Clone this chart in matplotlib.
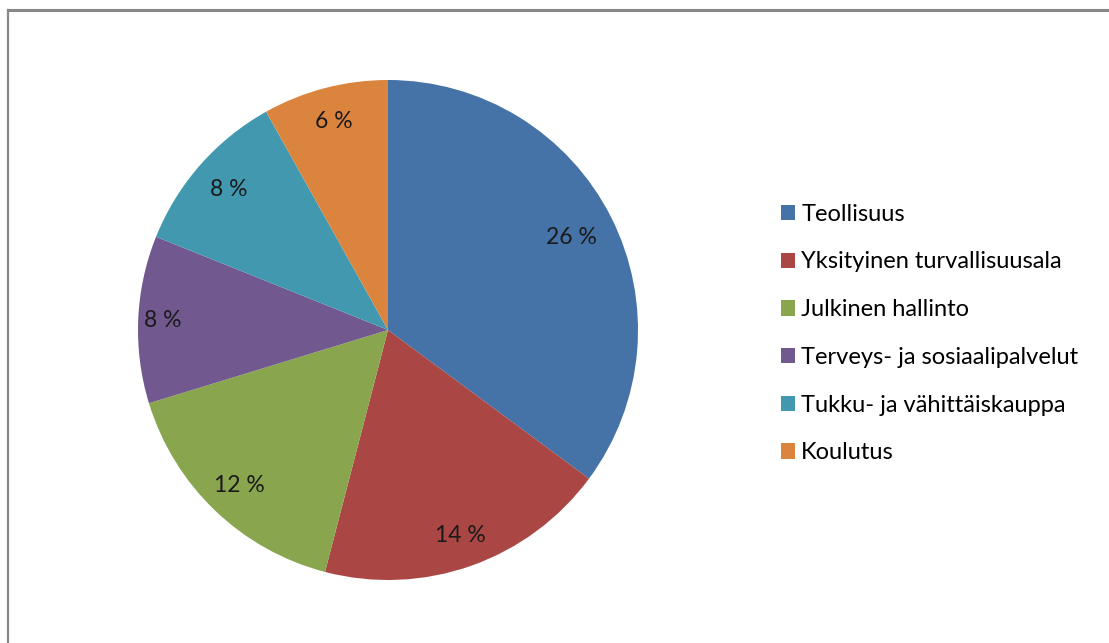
import numpy as np
import matplotlib
matplotlib.use("Agg")
import matplotlib.pyplot as plt
from matplotlib.lines import Line2D

categories = ["Teollisuus", "Yksityinen turvallisuusala", "Julkinen hallinto",
              "Terveys- ja sosiaalipalvelut", "Tukku- ja vähittäiskauppa", "Koulutus"]
values = [26, 14, 12, 8, 8, 6]
colors = ["#4572A7", "#AA4643", "#89A54E", "#71588F", "#4198AF", "#DB843D"]
label_dist = [0.82, 0.87, 0.86, 0.90, 0.85, 0.86]

plt.rcParams["font.family"] = ["Lato", "DejaVu Sans"]

W, H = 1109, 643
fig = plt.figure(figsize=(W / 100, H / 100), dpi=100)

# pie centre (388, 330) px, radius 250 px
ax = fig.add_axes([138 / W, (H - 580) / H, 500 / W, 500 / H])
wedges, _ = ax.pie(values, colors=colors, startangle=90, counterclock=False,
                   wedgeprops=dict(linewidth=0))
ax.set_xlim(-1, 1)
ax.set_ylim(-1, 1)
ax.set_aspect("equal")
ax.axis("off")

for w, v, d in zip(wedges, values, label_dist):
    ang = np.deg2rad((w.theta1 + w.theta2) / 2)
    ax.text(d * np.cos(ang), d * np.sin(ang), f"{v} %", ha="center", va="center",
            fontsize=16.5, color="#1a1a1a")

leg = fig.legend(wedges, categories, loc="upper left",
                 bbox_to_anchor=(769 / W, 1 - 192 / H), frameon=False,
                 fontsize=17, handlelength=0.62, handleheight=0.62,
                 handletextpad=0.25, labelspacing=1.13, borderpad=0)

# frame lines at top and left
fig.add_artist(Line2D([8 / W, 1], [1 - 10 / H, 1 - 10 / H], color="#888888", lw=2.2))
fig.add_artist(Line2D([8 / W, 8 / W], [0, 1 - 10 / H], color="#888888", lw=1.6))

fig.savefig("out.png", dpi=100)
